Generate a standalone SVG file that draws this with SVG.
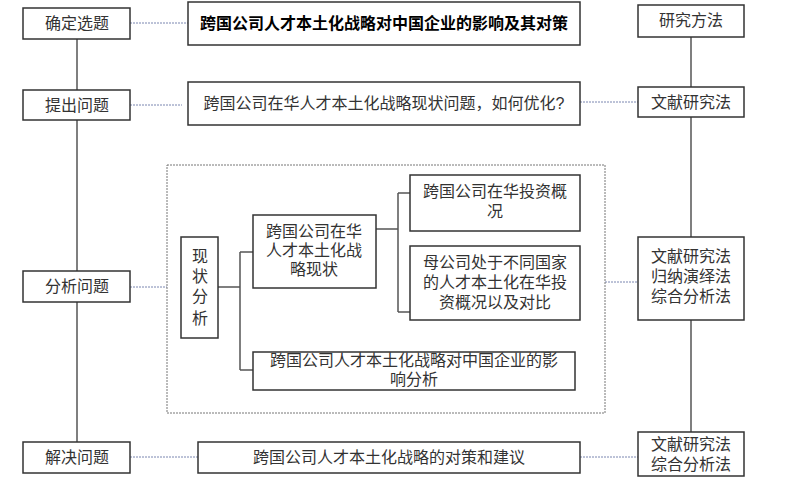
<svg xmlns="http://www.w3.org/2000/svg" width="797" height="480" viewBox="0 0 797 480">
<style>
rect{fill:#fff;stroke:#333;stroke-width:1.5}
text{font-family:"Liberation Sans","Noto Sans CJK SC",sans-serif;font-size:16px;fill:#333;text-anchor:middle}
.s{stroke:#555;stroke-width:1.5;fill:none}
.d{stroke:#7a86b0;stroke-width:1;stroke-dasharray:2 1;fill:none}
</style>
<rect x="0" y="0" width="797" height="480" style="fill:#fff;stroke:none"/>
<g id="connectors">
<path class="s" d="M77 39V442M691 37V432M218 287H240M240 252V370M240 252H253M240 370H253M376 229H398M398 193V312M398 193H410M398 312H410"/>
<path class="d" d="M130 23H188M130 105H182M130 287H167M605 282H638M580 102H638M130 457H198M580 457H638"/>
<rect x="167" y="165" width="438" height="248" style="fill:none;stroke:#777;stroke-width:1;stroke-dasharray:2 1"/>
</g>
<g id="n1"><rect x="23" y="8" width="107" height="31"/><text x="77" y="29">确定选题</text></g>
<g id="n2"><rect x="23" y="90" width="107" height="30"/><text x="77" y="111">提出问题</text></g>
<g id="n3"><rect x="23" y="271" width="107" height="31"/><text x="77" y="292">分析问题</text></g>
<g id="n4"><rect x="23" y="442" width="107" height="31"/><text x="77" y="463">解决问题</text></g>
<g id="t1"><rect x="188" y="2" width="392" height="43"/><text x="384" y="29" style="font-weight:bold;fill:#000">跨国公司人才本土化战略对中国企业的影响及其对策</text></g>
<g id="t2"><rect x="188" y="82" width="392" height="43"/><text x="384" y="109">跨国公司在华人才本土化战略现状问题，如何优化?</text></g>
<g id="xz"><rect x="181" y="237" width="37" height="101"/><text x="200" y="262">现</text><text x="200" y="282">状</text><text x="200" y="302">分</text><text x="200" y="324">析</text></g>
<g id="b2"><rect x="253" y="215" width="123" height="73"/><text x="314" y="237">跨国公司在华</text><text x="314" y="256">人才本土化战</text><text x="314" y="275">略现状</text></g>
<g id="b3"><rect x="410" y="175" width="170" height="56"/><text x="495" y="197">跨国公司在华投资概</text><text x="495" y="217">况</text></g>
<g id="b4"><rect x="410" y="246" width="170" height="74"/><text x="495" y="268">母公司处于不同国家</text><text x="495" y="288">的人才本土化在华投</text><text x="495" y="308">资概况以及对比</text></g>
<g id="b5"><rect x="253" y="352" width="322" height="38"/><text x="414" y="366">跨国公司人才本土化战略对中国企业的影</text><text x="414" y="385">响分析</text></g>
<g id="b6"><rect x="198" y="442" width="382" height="31"/><text x="389" y="463">跨国公司人才本土化战略的对策和建议</text></g>
<g id="r1"><rect x="638" y="5" width="106" height="32"/><text x="691" y="26">研究方法</text></g>
<g id="r2"><rect x="638" y="87" width="106" height="30"/><text x="691" y="108">文献研究法</text></g>
<g id="r3"><rect x="638" y="237" width="106" height="83"/><text x="691" y="262">文献研究法</text><text x="691" y="282">归纳演绎法</text><text x="691" y="302">综合分析法</text></g>
<g id="r4"><rect x="638" y="432" width="106" height="44"/><text x="691" y="450">文献研究法</text><text x="691" y="470">综合分析法</text></g>
</svg>
